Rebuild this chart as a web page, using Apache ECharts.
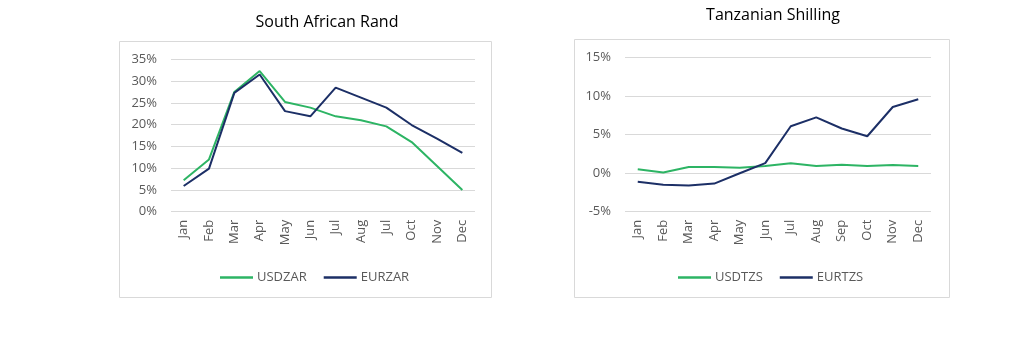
<!DOCTYPE html>
<html>
<head>
<meta charset="utf-8">
<script src="https://cdn.jsdelivr.net/npm/echarts@6/dist/echarts.min.js"></script>
<style>
html,body{margin:0;padding:0;background:#fff;}
#c{width:1024px;height:357px;}
</style>
</head>
<body>
<div id="c"></div>
<script>
// Left chart: South African Rand
const zarTitle = 'South African Rand';
const zarCategories = ['Jan','Feb','Mar','Apr','May','Jun','Jul','Aug','Jul','Oct','Nov','Dec'];
const usdzar = [7.2, 12.0, 27.5, 32.3, 25.2, 23.9, 21.9, 21.0, 19.6, 16.0, 10.5, 5.0];
const eurzar = [5.9, 9.9, 27.3, 31.5, 23.1, 21.9, 28.5, 26.2, 23.9, 19.9, 16.8, 13.5];
const zarTicks = {min: 0, max: 35, interval: 5};

// Right chart: Tanzanian Shilling
const tzsTitle = 'Tanzanian Shilling';
const tzsCategories = ['Jan','Feb','Mar','Apr','May','Jun','Jul','Aug','Sep','Oct','Nov','Dec'];
const usdtzs = [0.5, 0.1, 0.8, 0.8, 0.7, 0.95, 1.3, 0.95, 1.1, 0.95, 1.05, 0.95];
const eurtzs = [-1.1, -1.5, -1.6, -1.35, 0.0, 1.3, 6.1, 7.25, 5.8, 4.8, 8.6, 9.6];
const tzsTicks = {min: -5, max: 15, interval: 5};

const GREEN = '#2db464';
const NAVY = '#1c2f66';
const FONT = '"Open Sans", "Liberation Sans", sans-serif';
const LABEL = '#595959';
const GRID = '#d9d9d9';

function xAxis(gridIndex, data) {
  return {
    type: 'category', gridIndex, data, boundaryGap: true,
    axisLine: {show: false}, axisTick: {show: false},
    axisLabel: {rotate: 90, color: LABEL, fontFamily: FONT, fontSize: 13, margin: 8, interval: 0,
      formatter: (v, i) => data[i]}
  };
}
function yAxis(gridIndex, t) {
  return {
    type: 'value', gridIndex, min: t.min, max: t.max, interval: t.interval,
    axisLine: {show: false}, axisTick: {show: false},
    splitLine: {lineStyle: {color: GRID, width: 1}},
    axisLabel: {color: LABEL, fontFamily: FONT, fontSize: 13, margin: 14, formatter: '{value}%'}
  };
}
function line(name, data, color, idx) {
  return {name, type: 'line', data, xAxisIndex: idx, yAxisIndex: idx,
    symbol: 'none', lineStyle: {color, width: 2}, itemStyle: {color}, animation: false};
}
function legend(names, left) {
  return {data: names, left, top: 266, icon: 'rect', itemWidth: 33, itemHeight: 2.5, itemGap: 17,
    textStyle: {color: LABEL, fontFamily: FONT, fontSize: 13, padding: [0,0,0,-1]}};
}

const chart = echarts.init(document.getElementById('c'), null, {renderer: 'canvas'});
chart.setOption({
  animation: false,
  grid: [
    {left: 171, right: 549, top: 59.3, bottom: 145.3, containLabel: false},
    {left: 625, right: 93, top: 57.7, bottom: 145.3, containLabel: false}
  ],
  xAxis: [xAxis(0, zarCategories), xAxis(1, tzsCategories)],
  yAxis: [yAxis(0, zarTicks), yAxis(1, tzsTicks)],
  legend: [legend(['USDZAR','EURZAR'], 215), legend(['USDTZS','EURTZS'], 673)],
  graphic: [
    {type: 'rect', shape: {x: 119.5, y: 41.5, width: 372, height: 256}, style: {fill: 'none', stroke: GRID, lineWidth: 1}, z: -1},
    {type: 'rect', shape: {x: 574.5, y: 39.5, width: 375, height: 258}, style: {fill: 'none', stroke: GRID, lineWidth: 1}, z: -1},
    {type: 'text', x: 327, y: 22, style: {text: zarTitle, fill: '#000', font: '500 16px ' + FONT, textAlign: 'center', textVerticalAlign: 'middle'}},
    {type: 'text', x: 773, y: 15, style: {text: tzsTitle, fill: '#000', font: '500 16px ' + FONT, textAlign: 'center', textVerticalAlign: 'middle'}}
  ],
  series: [
    line('USDZAR', usdzar, GREEN, 0),
    line('EURZAR', eurzar, NAVY, 0),
    line('USDTZS', usdtzs, GREEN, 1),
    line('EURTZS', eurtzs, NAVY, 1)
  ]
});
</script>
</body>
</html>
